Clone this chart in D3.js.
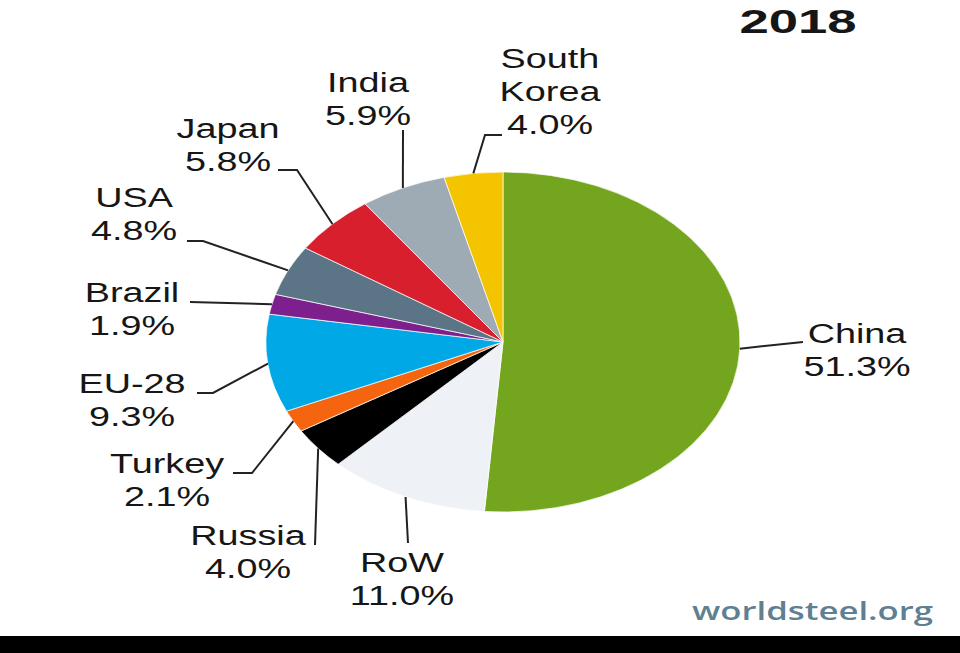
<!DOCTYPE html>
<html>
<head>
<meta charset="utf-8">
<script src="https://cdnjs.cloudflare.com/ajax/libs/d3/7.8.5/d3.min.js"></script>
<style>
  body { margin: 0; background: #fff; }
  svg text { font-family: "Liberation Sans", Arial, sans-serif; fill: #161616; }
</style>
</head>
<body>
<svg id="chart" width="960" height="653"></svg>
<script>

var countries = ["China", "RoW", "Russia", "Turkey", "EU-28", "Brazil", "USA", "Japan", "India", "South Korea"]
var labelLines = [["China"], ["RoW"], ["Russia"], ["Turkey"], ["EU-28"], ["Brazil"], ["USA"], ["Japan"], ["India"], ["South", "Korea"]]
var shares = [51.3, 11.0, 4.0, 2.1, 9.3, 1.9, 4.8, 5.8, 5.9, 4.0]
var sliceColors = ["#74a51e", "#eef1f5", "#000000", "#f5650f", "#00a9e6", "#7d1f8c", "#5b7586", "#d81f2d", "#9eabb4", "#f4c400"]
var title = "2018"
var source = "worldsteel.org"

// where each label sits (centre x, first baseline) and the knee of its leader line
var labelLayout = {
  "China":       { x: 857, y: 343, leader: [[803, 342]] },
  "RoW":         { x: 402, y: 572, leader: [[408, 543]] },
  "Russia":      { x: 248, y: 545, leader: [[315, 545]] },
  "Turkey":      { x: 167, y: 473, leader: [[252, 473], [233, 473]] },
  "EU-28":       { x: 132, y: 393, leader: [[213, 393], [197, 393]] },
  "Brazil":      { x: 132, y: 302, leader: [[190, 302]] },
  "USA":         { x: 134, y: 207, leader: [[203, 241], [187, 241]] },
  "Japan":       { x: 228, y: 138, leader: [[297, 170], [278, 170]] },
  "India":       { x: 368, y: 92,  leader: [[403, 130]] },
  "South Korea": { x: 550, y: 68,  leader: [[485, 135], [502, 135]] }
}

var cx = 503, cy = 342, ry = 170, stretch = 237 / 170
var lineGap = 33, textStretch = 1.35

var svg = d3.select("#chart")
svg.append("rect").attr("width", 960).attr("height", 653).attr("fill", "#fff")

var data = countries.map(function(c, i) {
  return { name: c, lines: labelLines[i], value: shares[i], color: sliceColors[i] }
})

var pie = d3.pie().sort(null).value(function(d) { return d.value })
var arc = d3.arc().innerRadius(0).outerRadius(ry)
var arcs = pie(data)

var g = svg.append("g")
  .attr("transform", "translate(" + cx + "," + cy + ") scale(" + stretch + ",1)")

g.selectAll("path")
  .data(arcs)
  .enter().append("path")
  .attr("d", arc)
  .attr("fill", function(d) { return d.data.color })
  .attr("stroke", "#fff")
  .attr("stroke-width", 0.6)

// leader lines start on the rim at the middle of each slice
function rimPoint(d) {
  var a = (d.startAngle + d.endAngle) / 2
  return [cx + Math.sin(a) * ry * stretch, cy - Math.cos(a) * ry]
}

svg.selectAll("polyline.leader")
  .data(arcs)
  .enter().append("polyline")
  .attr("class", "leader")
  .attr("fill", "none")
  .attr("stroke", "#222")
  .attr("stroke-width", 2)
  .attr("points", function(d) {
    var pts = [rimPoint(d)].concat(labelLayout[d.data.name].leader)
    return pts.map(function(p) { return p.join(",") }).join(" ")
  })

var labels = svg.selectAll("text.lbl")
  .data(arcs)
  .enter().append("text")
  .attr("class", "lbl")
  .attr("text-anchor", "middle")
  .attr("font-size", 28)
  .attr("transform", function(d) {
    var L = labelLayout[d.data.name]
    return "translate(" + L.x + "," + L.y + ") scale(" + textStretch + ",1)"
  })

labels.each(function(d) {
  var t = d3.select(this)
  var lines = d.data.lines.concat([d3.format(".1f")(d.data.value) + "%"])
  lines.forEach(function(s, i) {
    t.append("tspan").attr("x", 0).attr("y", i * lineGap).text(s)
  })
})

svg.append("text")
  .attr("text-anchor", "middle")
  .attr("font-size", 34)
  .attr("font-weight", "bold")
  .attr("transform", "translate(798,33) scale(1.55,1)")
  .text(title)

svg.append("text")
  .attr("x", 692)
  .attr("y", 620)
  .attr("font-size", 26)
  .attr("font-weight", 600)
  .style("font-family", "'Open Sans', 'DejaVu Sans', sans-serif")
  .style("fill", "#5f7f92")
  .attr("textLength", 241)
  .attr("lengthAdjust", "spacingAndGlyphs")
  .text(source)

svg.append("rect")
  .attr("x", 0).attr("y", 636)
  .attr("width", 960).attr("height", 17)
  .attr("fill", "#000")

</script>
</body>
</html>
